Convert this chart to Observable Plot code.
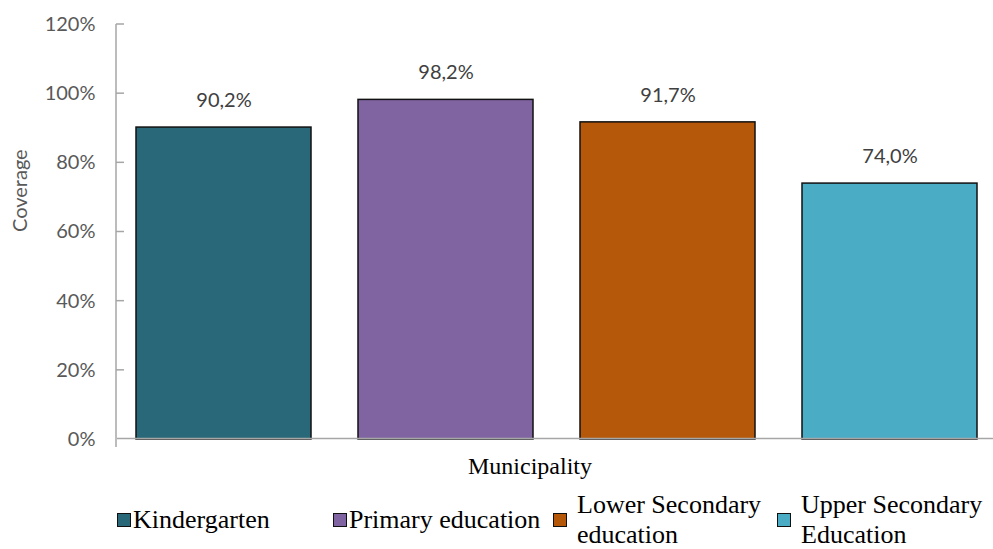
<!DOCTYPE html>
<html>
<head>
<meta charset="utf-8">
<script src="https://cdn.jsdelivr.net/npm/d3@7"></script>
<script src="https://cdn.jsdelivr.net/npm/@observablehq/plot@0.6"></script>
<style>
  html, body { margin: 0; padding: 0; background: #fff; overflow: hidden; }
  #chart { width: 993px; }
  .xtitle {
    width: 1060px;
    height: 32px;
    line-height: 32px;
    text-align: center;
    font-family: "Liberation Serif", "Times New Roman", serif;
    font-size: 24px;
    color: #000;
  }
  .legend {
    display: flex;
    align-items: center;
    padding-left: 117px;
    padding-top: 8px;
    height: 59px;
    font-family: "Liberation Serif", "Times New Roman", serif;
    font-size: 26px;
    line-height: 30px;
    color: #000;
  }
  .legend .item { display: flex; align-items: center; }
  .legend .sw {
    width: 12px; height: 12px;
    border: 1.5px solid #111;
    margin-right: 2px;
    flex: none;
  }
  .legend .lbl { max-width: 200px; }
  .legend .item.wrap .lbl { padding-left: 8px; }
</style>
</head>
<body>
<div id="chart"></div>
<script>
// Coverage by level of education in the municipality
const levels = ["Kindergarten", "Primary education", "Lower Secondary education", "Upper Secondary Education"];
const coverage = [90.2, 98.2, 91.7, 74.0];
const colors = ["#296878", "#8064a2", "#b5580a", "#4bacc6"];
const yTicks = [0, 20, 40, 60, 80, 100, 120];
const xTitle = "Municipality";
const yTitle = "Coverage";
const legendWidths = [216, 220, 224, 216];

const rows = levels.map((level, i) => ({level, value: coverage[i]}));
const fmt = v => v.toFixed(1).replace(".", ",") + "%";
const sans = "Lato, 'Liberation Sans', sans-serif";
const axisGray = "#a6a6a6";

// Vertical axis line with inward tick marks, drawn from the y scale
function yAxisLine(index, scales, values, dimensions) {
  const g = d3.create("svg:g").attr("stroke", axisGray).attr("stroke-width", 1.5);
  const x0 = dimensions.marginLeft - 1;
  g.append("line")
    .attr("x1", x0).attr("x2", x0)
    .attr("y1", scales.y(120)).attr("y2", scales.y(0) + 8);
  g.selectAll("line.tick").data(yTicks.filter(t => t > 0)).join("line")
    .attr("class", "tick")
    .attr("x1", x0).attr("x2", x0 + 8)
    .attr("y1", d => scales.y(d)).attr("y2", d => scales.y(d));
  return g.node();
}

const plot = Plot.plot({
  width: 993,
  height: 450,
  marginTop: 24,
  marginBottom: 11,
  marginLeft: 117,
  marginRight: -4,
  style: {background: "#fff", overflow: "visible"},
  x: {domain: levels, paddingInner: 0.21, paddingOuter: 0.081, axis: null},
  y: {domain: [0, 120], axis: null},
  color: {domain: levels, range: colors},
  marks: [
    Plot.barY(rows, {x: "level", y: "value", fill: "level", stroke: "#111", strokeWidth: 1.5}),
    Plot.ruleY([0], {stroke: axisGray, strokeWidth: 1.5, dy: -1}),
    yAxisLine,
    Plot.axisY({
      ticks: yTicks,
      tickFormat: d => d + "%",
      tickSize: 0,
      tickPadding: 22,
      fill: "#595959",
      fontSize: 20,
      fontFamily: sans,
      label: null
    }),
    Plot.text(rows, {
      x: "level", y: "value", text: d => fmt(d.value),
      dy: -27, fill: "#404040", fontSize: 20, fontFamily: sans
    }),
    Plot.text([yTitle], {
      frameAnchor: "left", dx: -97, rotate: -90,
      fill: "#595959", fontSize: 20, fontFamily: sans
    })
  ]
});
const root = document.getElementById("chart");
root.appendChild(plot);

// Category axis title under the plot
const title = document.createElement("div");
title.className = "xtitle";
title.textContent = xTitle;
root.appendChild(title);

// Legend built from the same categories and colours
const legend = document.createElement("div");
legend.className = "legend";
levels.forEach((level, i) => {
  const item = document.createElement("div");
  item.className = "item" + (i >= 2 ? " wrap" : "");
  item.style.width = legendWidths[i] + "px";
  const sw = document.createElement("span");
  sw.className = "sw";
  sw.style.background = colors[i];
  const lbl = document.createElement("span");
  lbl.className = "lbl";
  lbl.textContent = level;
  item.append(sw, lbl);
  legend.appendChild(item);
});
root.appendChild(legend);
</script>
</body>
</html>
